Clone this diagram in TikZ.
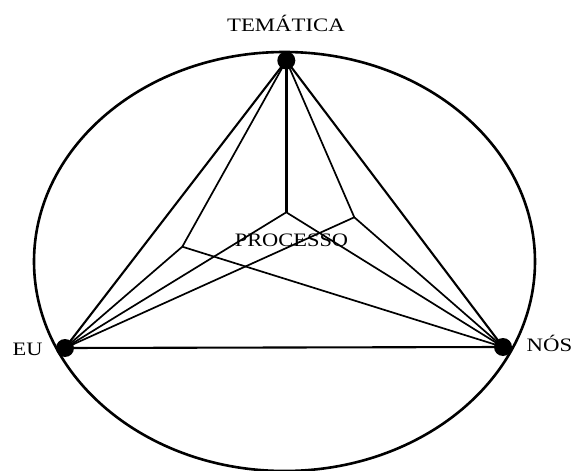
\documentclass[tikz,border=0pt]{standalone}
\usepackage{fontspec}
\setmainfont{Liberation Serif}
\begin{document}
\begin{tikzpicture}[x=1pt,y=-1pt,
  dot/.style={circle,fill=black,inner sep=0pt,minimum size=18pt},
  lbl/.style={anchor=base,inner sep=0pt,font=\fontsize{19}{19}\selectfont},
  outer/.style={line width=2.1pt},
  inner/.style={line width=1.7pt}]
\useasboundingbox (0,0) rectangle (574,471);
\draw[line width=2.6pt] (284.5,261.5) ellipse [x radius=250.5, y radius=209.5];
\coordinate (C) at (286.3,212.3);
\coordinate (L) at (182.3,246.7);
\coordinate (R) at (354.3,217.3);
\node[dot] (T) at (286.3,60.5) {};
\node[dot] (E) at (65,348) {};
\node[dot] (N) at (503,347) {};
% outer triangle
\draw[outer] (T.center) -- (E.center) -- (N.center) -- cycle;
% center point
\draw[line width=2.5pt] (T.center) -- (C);
\draw[inner] (E.center) -- (C) -- (N.center);
% left point
\draw[inner] (T.center) -- (L) -- (E.center);
\draw[inner] (L) -- (N.center);
% right point
\draw[inner] (T.center) -- (R) -- (N.center);
\draw[inner] (R) -- (E.center);
% labels
\node[lbl] (tl) at (286,31.7) {\scalebox{1.2}[1]{TEMÁTICA}};
\node[lbl] (pl) at (291.5,246) {\scalebox{1.18}[1]{PROCESSO}};
\node[lbl] (el) at (27.5,355.5) {\scalebox{1.18}[1]{EU}};
\node[lbl] (nl) at (549.5,351) {\scalebox{1.2}[1]{NÓS}};
\end{tikzpicture}
\end{document}
